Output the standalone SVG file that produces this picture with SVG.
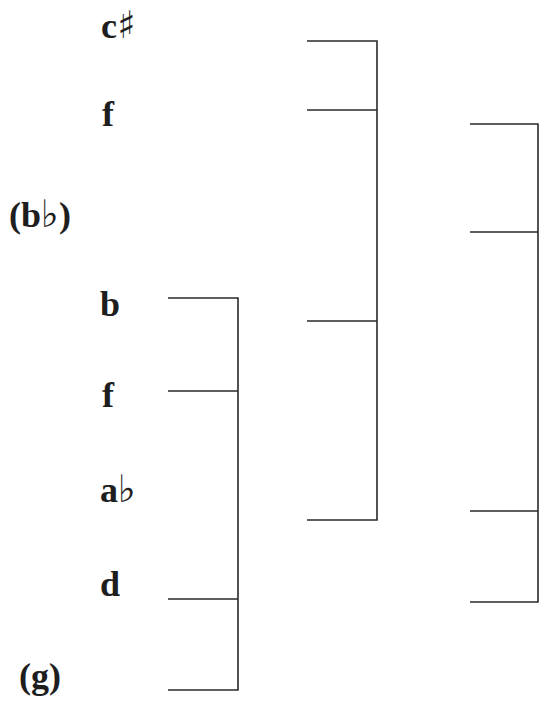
<svg xmlns="http://www.w3.org/2000/svg" width="539" height="702" viewBox="0 0 539 702">
<style>
.lbl{font-family:"Liberation Serif","DejaVu Serif",serif;font-size:36px;font-weight:bold;fill:#1e1e1e}
.acc{font-family:"DejaVu Sans",serif;font-weight:normal;font-size:38px}
.br{fill:none;stroke:#2a2a2a;stroke-width:1.6}
</style>
<rect width="539" height="702" fill="#ffffff"/>
<g id="labels">
<g id="n-csharp"><text class="lbl" x="101" y="38">c<tspan class="acc" font-size="32" font-weight="bold">♯</tspan></text></g>
<g id="n-f1"><text class="lbl" x="102" y="126">f</text></g>
<g id="n-bflat"><text class="lbl" x="9" y="227">(b<tspan class="acc">♭</tspan>)</text></g>
<g id="n-b"><text class="lbl" x="100" y="316">b</text></g>
<g id="n-f2"><text class="lbl" x="102" y="407">f</text></g>
<g id="n-aflat"><text class="lbl" x="100" y="502">a<tspan class="acc" font-size="30">♭</tspan></text></g>
<g id="n-d"><text class="lbl" x="100" y="596">d</text></g>
<g id="n-g"><text class="lbl" x="19" y="688">(g)</text></g>
</g>
<g id="connectors">
<path class="br" d="M168,298 H238 V690 H168 M168,391 H238 M168,599 H238"/>
<path class="br" d="M307,41 H377 V520 H307 M307,110 H377 M307,321 H377"/>
<path class="br" d="M470,124 H538 V602 H470 M470,232 H538 M470,511 H538"/>
</g>
</svg>
